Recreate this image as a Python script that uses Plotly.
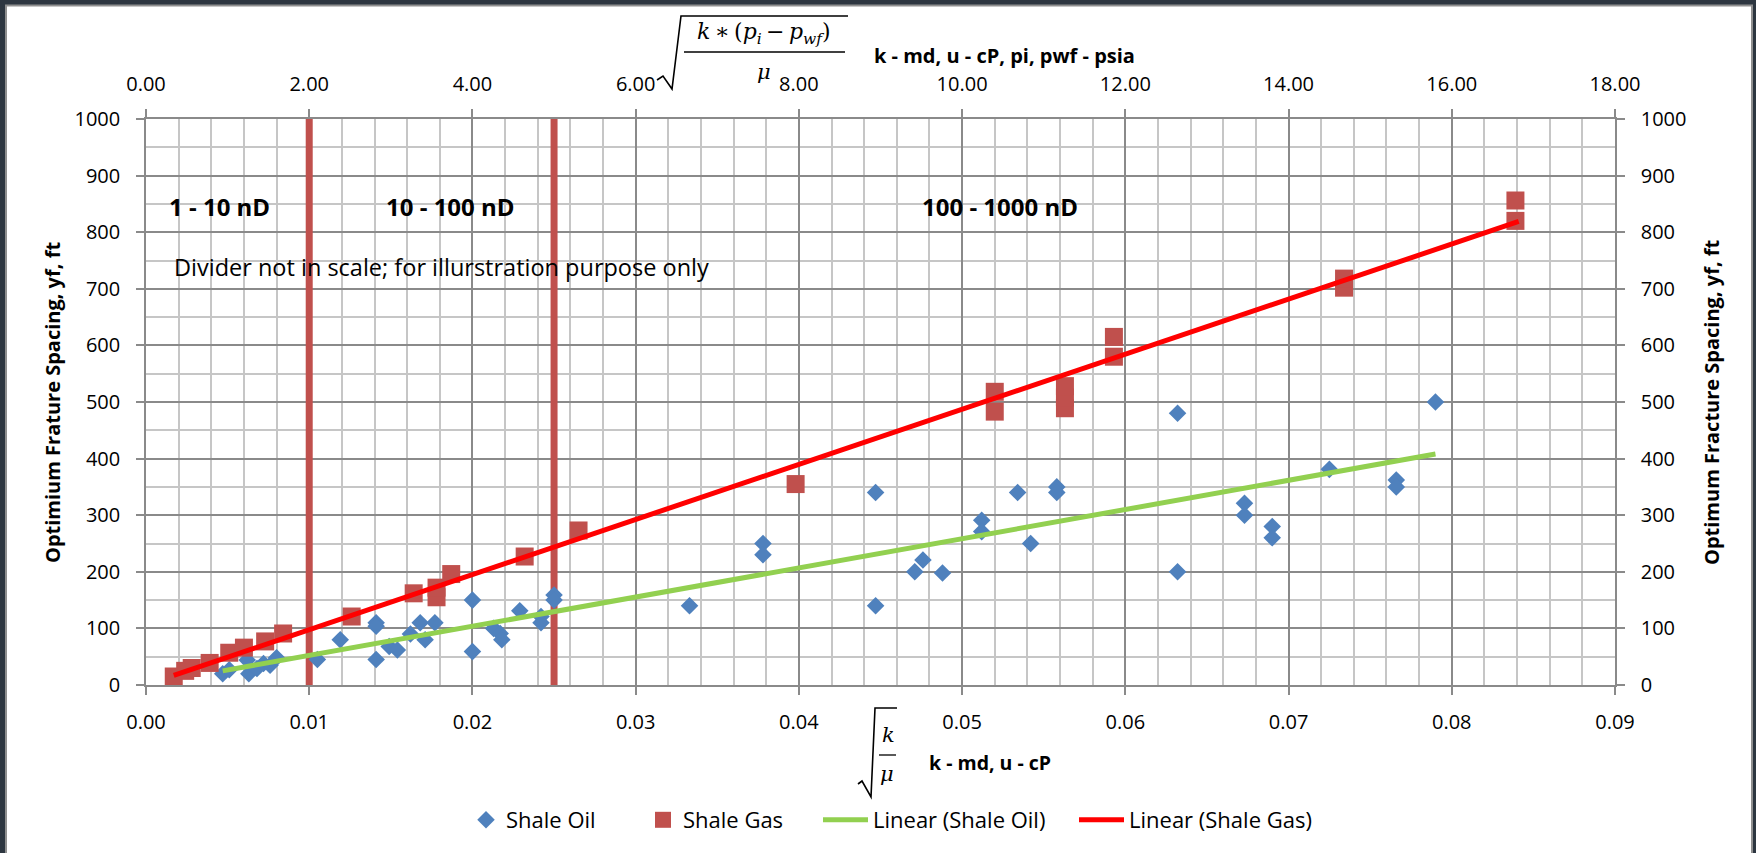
import plotly.graph_objects as go

# ---------------- data ----------------
oil_x = [0.0047, 0.0051, 0.0062, 0.0063, 0.0068, 0.0072, 0.0076, 0.0080,
         0.0105, 0.0119, 0.0141, 0.0141, 0.0141, 0.0149, 0.0154, 0.0162,
         0.0168, 0.0171, 0.0177, 0.0200, 0.0200, 0.0213, 0.0217, 0.0218,
         0.0229, 0.0242, 0.0242, 0.0250, 0.0250, 0.0333, 0.0378, 0.0378,
         0.0447, 0.0447, 0.0471, 0.0476, 0.0488, 0.0512, 0.0512, 0.0534,
         0.0542, 0.0558, 0.0558, 0.0632, 0.0632, 0.0673, 0.0673, 0.0690,
         0.0690, 0.0725, 0.0766, 0.0766, 0.0790]
oil_y = [20, 27, 44, 20, 29, 38, 35, 48,
         45, 80, 110, 104, 45, 68, 62, 90,
         110, 80, 110, 150, 59, 100, 91, 80,
         131, 121, 110, 159, 150, 140, 250, 230,
         340, 140, 200, 221, 198, 291, 271, 340,
         250, 350, 340, 480, 200, 321, 300, 280,
         260, 381, 362, 350, 500]

gas_x = [0.0017, 0.0024, 0.0028, 0.0039, 0.0051, 0.0060, 0.0073, 0.0084,
         0.0126, 0.0164, 0.0178, 0.0178, 0.0187, 0.0232, 0.0265, 0.0398,
         0.0520, 0.0520, 0.0563, 0.0563, 0.0563, 0.0593, 0.0593, 0.0734,
         0.0734, 0.0839, 0.0839]
gas_y = [15, 25, 30, 39, 57, 66, 77, 91,
         121, 162, 155, 172, 196, 227, 273, 355,
         483, 518, 489, 508, 528, 580, 615, 702,
         718, 820, 856]

oil_trend_x = [0.0047, 0.0790]
oil_trend_y = [25, 408]
gas_trend_x = [0.0017, 0.0841]
gas_trend_y = [17, 819]

divider_x = [0.010, 0.025]
divider_span = [-6, 1004]

x_ticks = [0.00, 0.01, 0.02, 0.03, 0.04, 0.05, 0.06, 0.07, 0.08, 0.09]
top_ticks = [0, 2, 4, 6, 8, 10, 12, 14, 16, 18]
y_ticks = [0, 100, 200, 300, 400, 500, 600, 700, 800, 900, 1000]

region_labels = ["1 - 10 nD", "10 - 100 nD", "100 - 1000 nD"]
region_label_x = [0.0013, 0.0146, 0.0474]
region_label_y = [845, 845, 845]

# ---------------- layout helpers ----------------
W, H = 1756, 853
L, R, T, B = 146, 141, 119, 168
PW, PH = W - L - R, H - T - B


def px(x):
    return (x - L) / PW


def py(y):
    return (H - B - y) / PH


FONT = "Open Sans"
MATH = "DejaVu Serif"
MAJOR = "#8a8a8a"
MINOR = "#c6c6c6"

fig = go.Figure()

fig.add_trace(go.Scatter(
    x=oil_x, y=oil_y, mode="markers", name="Shale Oil",
    marker=dict(symbol="diamond", size=13.5, color="#4f81bd"),
    legend="legend", hoverinfo="skip"))
fig.add_trace(go.Scatter(
    x=gas_x, y=gas_y, mode="markers", name="Shale Gas",
    marker=dict(symbol="square", size=18, color="#c0504d"),
    legend="legend2", hoverinfo="skip"))
fig.add_trace(go.Scatter(
    x=oil_trend_x, y=oil_trend_y, mode="lines", name="Linear (Shale Oil)",
    line=dict(color="#92d050", width=5), legend="legend3", hoverinfo="skip"))
fig.add_trace(go.Scatter(
    x=gas_trend_x, y=gas_trend_y, mode="lines", name="Linear (Shale Gas)",
    line=dict(color="#ff0000", width=5), legend="legend4", hoverinfo="skip"))
# helper trace so the secondary (top / right) axes are drawn
fig.add_trace(go.Scatter(
    x=[top_ticks[0], top_ticks[-1]], y=[y_ticks[0], y_ticks[-1]],
    xaxis="x2", yaxis="y2", mode="markers", marker=dict(opacity=0),
    showlegend=False, hoverinfo="skip"))

tickfont = dict(family=FONT, size=20, color="#000")

fig.update_layout(
    width=W, height=H,
    margin=dict(l=L, r=R, t=T, b=B, pad=0),
    paper_bgcolor="#2d3640",
    plot_bgcolor="white",
    hovermode=False,
    font=dict(family=FONT, color="#000"),
    xaxis=dict(
        range=[x_ticks[0], x_ticks[-1]], tickmode="array", tickvals=x_ticks,
        ticktext=[f"{v:.2f}" for v in x_ticks], tickfont=tickfont,
        ticks="outside", ticklen=8, tickcolor=MAJOR, tickwidth=1.5,
        ticklabelstandoff=10,
        showgrid=True, gridcolor=MAJOR, gridwidth=1.5,
        minor=dict(tickmode="linear", tick0=0, dtick=0.002, showgrid=True,
                   gridcolor=MINOR, gridwidth=1.5, ticks=""),
        showline=True, linecolor=MAJOR, linewidth=1.5, zeroline=False),
    xaxis2=dict(
        range=[top_ticks[0], top_ticks[-1]], overlaying="x", side="top",
        anchor="y", tickmode="array", tickvals=top_ticks,
        ticktext=[f"{v:.2f}" for v in top_ticks], tickfont=tickfont,
        ticks="outside", ticklen=8, tickcolor=MAJOR, tickwidth=1.5,
        ticklabelstandoff=10,
        showgrid=False, showline=True, linecolor=MAJOR, linewidth=1.5,
        zeroline=False),
    yaxis=dict(
        range=[y_ticks[0], y_ticks[-1]], tickmode="array", tickvals=y_ticks,
        tickfont=tickfont, ticks="outside", ticklen=8, tickcolor=MAJOR,
        tickwidth=1.5, ticklabelstandoff=12,
        showgrid=True, gridcolor=MAJOR, gridwidth=1.5,
        minor=dict(tickmode="linear", tick0=0, dtick=50, showgrid=True,
                   gridcolor=MINOR, gridwidth=1.5, ticks=""),
        showline=True, linecolor=MAJOR, linewidth=1.5, zeroline=False),
    yaxis2=dict(
        range=[y_ticks[0], y_ticks[-1]], overlaying="y", side="right",
        anchor="x", tickmode="array", tickvals=y_ticks, tickfont=tickfont,
        ticks="outside", ticklen=8, tickcolor=MAJOR, tickwidth=1.5,
        ticklabelstandoff=12,
        showgrid=False, showline=True, linecolor=MAJOR, linewidth=1.5,
        zeroline=False),
)

leg_common = dict(orientation="h", xanchor="left", yanchor="middle",
                  y=py(820), bgcolor="rgba(0,0,0,0)",
                  font=dict(family=FONT, size=22, color="#000"))
fig.update_layout(
    legend=dict(x=px(466), **leg_common),
    legend2=dict(x=px(643), **leg_common),
    legend3=dict(x=px(818), itemwidth=45, **leg_common),
    legend4=dict(x=px(1074), itemwidth=45, **leg_common),
)

shapes = []
# white card with dark frame
shapes.append(dict(type="rect", xref="paper", yref="paper",
                   x0=px(6), x1=px(1752), y0=py(H + 10), y1=py(5.5),
                   fillcolor="white", line=dict(color="#8f8f8f", width=2),
                   layer="below"))
# dividers
for dx in divider_x:
    shapes.append(dict(type="line", xref="x", yref="y", x0=dx, x1=dx,
                       y0=divider_span[0], y1=divider_span[1],
                       line=dict(color="#c0504d", width=7), layer="between"))


def path(points):
    return "M" + " L".join(f"{px(a):.5f},{py(b):.5f}" for a, b in points)


# top radical sqrt(k*(pi-pwf)/mu)
shapes.append(dict(type="path", xref="paper", yref="paper",
                   path=path([(657, 80), (663, 76), (672, 89), (681, 16), (848, 16)]),
                   line=dict(color="#000", width=1.6)))
shapes.append(dict(type="line", xref="paper", yref="paper",
                   x0=px(684), x1=px(845), y0=py(52), y1=py(52),
                   line=dict(color="#000", width=1.3)))
# bottom radical sqrt(k/mu)
shapes.append(dict(type="path", xref="paper", yref="paper",
                   path=path([(858, 784), (862, 781), (871, 797), (875, 708), (897, 708)]),
                   line=dict(color="#000", width=1.6)))
shapes.append(dict(type="line", xref="paper", yref="paper",
                   x0=px(879), x1=px(896), y0=py(755), y1=py(755),
                   line=dict(color="#000", width=1.3)))
fig.update_layout(shapes=shapes)

ann = []


def pa(text, x, y, size, xanchor="center", yanchor="middle", angle=0,
       family=FONT):
    ann.append(dict(text=text, x=px(x), y=py(y), xref="paper", yref="paper",
                    xanchor=xanchor, yanchor=yanchor, textangle=angle,
                    showarrow=False, font=dict(family=family, size=size,
                                               color="#000")))


pa("<b>Optimium Frature Spacing, yf, ft</b>", 52, 402, 20, angle=-90)
pa("<b>Optimum Fracture Spacing, yf, ft</b>", 1711, 402, 20, angle=-90)
pa("<b>k - md, u - cP, pi, pwf - psia</b>", 872, 55, 20, xanchor="left")
pa("<b>k - md, u - cP</b>", 927, 762, 19.5, xanchor="left")
pa("<i>k</i>\u2009∗\u2009(<i>p</i><sub><i>i</i></sub>\u2009−\u2009<i>p</i><sub><i>wf</i></sub>)",
   764, 33, 22, family=MATH)
pa("<i>μ</i>", 764, 72, 21, family=MATH)
pa("<i>k</i>", 888, 735, 21, family=MATH)
pa("<i>μ</i>", 887, 774, 21, family=MATH)

for t, x, y in zip(region_labels, region_label_x, region_label_y):
    ann.append(dict(text=f"<b>{t}</b>", x=x, y=y, xref="x", yref="y",
                    xanchor="left", yanchor="middle", showarrow=False,
                    font=dict(family=FONT, size=24, color="#000")))
ann.append(dict(text="Divider not in scale; for illurstration purpose only",
                x=0.0016, y=739, xref="x", yref="y", xanchor="left",
                yanchor="middle", showarrow=False,
                font=dict(family=FONT, size=23.5, color="#000")))
fig.update_layout(annotations=ann)

fig.write_html("out.html")
